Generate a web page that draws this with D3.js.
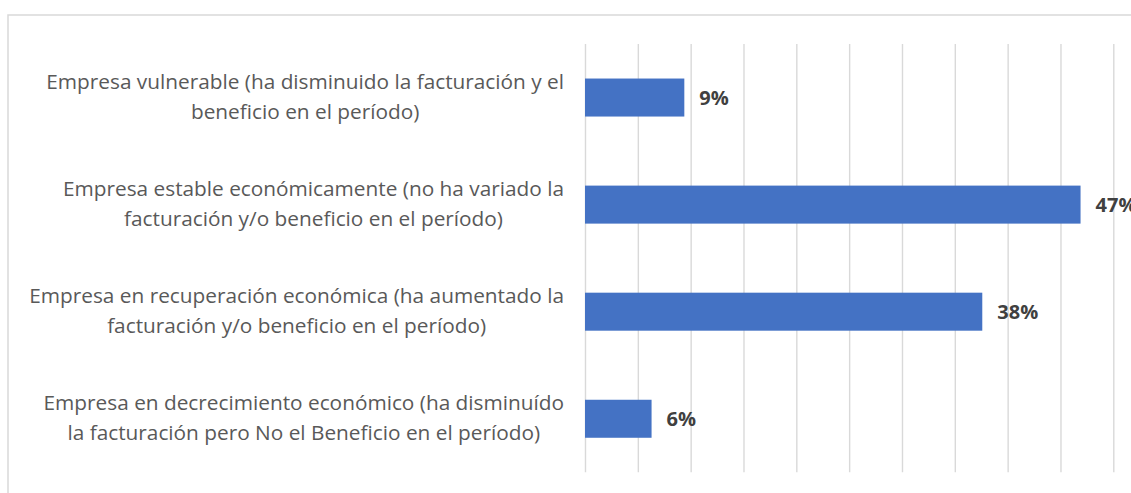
<!DOCTYPE html>
<html>
<head>
<meta charset="utf-8">
<script src="https://cdn.jsdelivr.net/npm/d3@7"></script>
<style>
  body { margin: 0; background: #fff; }
  svg { display: block; }
</style>
</head>
<body>
<svg id="chart" width="1131" height="493"></svg>
<script>
// categories, top to bottom (each label is two lines)
const categories = [
  ["Empresa vulnerable (ha disminuido la facturación y el", "beneficio en el período)"],
  ["Empresa estable económicamente (no ha variado la", "facturación y/o beneficio en el período)"],
  ["Empresa en recuperación económica (ha aumentado la", "facturación y/o beneficio en el período)"],
  ["Empresa en decrecimiento económico (ha disminuído", "la facturación pero No el Beneficio en el período)"]
];
const values = [0.094, 0.469, 0.376, 0.063];

const svg = d3.select("#chart");
const barColor = "#4472c4";
const gridColor = "#d9d9d9";

// chart frame (cut off at right/bottom like the original)
svg.append("rect")
  .attr("x", 8).attr("y", 15)
  .attr("width", 1200).attr("height", 600)
  .attr("fill", "none")
  .attr("stroke", gridColor)
  .attr("stroke-width", 1.5);

const plot = { left: 585, right: 1113.3, top: 44, bottom: 472.3 };

const x = d3.scaleLinear().domain([0, 0.5]).range([plot.left, plot.right]);
const y = d3.scaleBand()
  .domain(d3.range(categories.length))
  .range([plot.top, plot.bottom])
  .paddingInner(0.645)
  .paddingOuter(0.3225);

// vertical gridlines
svg.append("g")
  .attr("transform", `translate(0,${plot.bottom})`)
  .call(d3.axisBottom(x).ticks(10).tickSize(-(plot.bottom - plot.top)).tickFormat(""))
  .call(g => g.select(".domain").remove())
  .call(g => g.selectAll(".tick line").attr("stroke", gridColor).attr("stroke-width", 1.4));

// bars
svg.selectAll(".bar")
  .data(values)
  .enter()
  .append("rect")
  .attr("class", "bar")
  .attr("x", x(0))
  .attr("y", (d, i) => y(i))
  .attr("width", d => x(d) - x(0))
  .attr("height", y.bandwidth())
  .attr("fill", barColor);

// value labels
svg.selectAll(".val")
  .data(values)
  .enter()
  .append("text")
  .attr("class", "val")
  .attr("x", d => x(d) + 15)
  .attr("y", (d, i) => y(i) + y.bandwidth() / 2)
  .attr("dy", "0.36em")
  .attr("font-family", "'Open Sans', sans-serif")
  .attr("font-weight", "bold")
  .attr("font-size", 20)
  .attr("fill", "#404040")
  .text(d => d3.format(".0%")(d));

// category labels: block right-aligned, each line centered in block
const labelRight = 564;
const catG = svg.selectAll(".cat")
  .data(categories)
  .enter()
  .append("text")
  .attr("class", "cat")
  .attr("font-family", "'Open Sans', sans-serif")
  .attr("font-size", 20.8)
  .attr("fill", "#595959")
  .attr("text-anchor", "middle");

catG.each(function(lines, i) {
  const t = d3.select(this);
  const cy = y(i) + y.bandwidth() / 2;
  lines.forEach((ln, k) => {
    t.append("tspan").attr("y", cy - 8.5 + k * 30).text(ln);
  });
  const w = d3.max(t.selectAll("tspan").nodes(), n => n.getComputedTextLength());
  t.selectAll("tspan").attr("x", labelRight - w / 2);
});
</script>
</body>
</html>
